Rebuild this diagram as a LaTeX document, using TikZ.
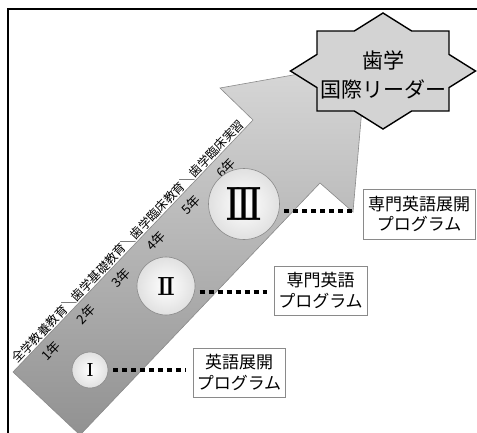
\documentclass[tikz,border=0pt]{standalone}
\usepackage{fontspec}
\newfontfamily\jp{Noto Sans CJK JP}
\definecolor{linegray}{HTML}{8A8A8A}
\definecolor{stargray}{HTML}{D3D3D3}
\begin{document}
\begin{tikzpicture}[x=1pt,y=-1pt,
  framestyle/.style={line width=1.3pt, black},
  arrowline/.style={draw=linegray, line width=0.6pt, line join=miter},
  arrowfill/.style={top color=white, bottom color=black!56},
  starshape/.style={draw=black, line width=1.4pt, fill=stargray, line join=miter},
  startext/.style={font=\jp\fontsize{21}{28}\selectfont, inner sep=0pt},
  stage/.style={circle, draw=linegray, line width=0.6pt, inner color=white, outer color=black!12, inner sep=0pt},
  progbox/.style={draw=linegray, line width=0.8pt, fill=white, align=center, font=\jp\fontsize{17}{20.5}\selectfont, inner sep=0pt},
  yearlabel/.style={font=\jp\fontsize{13}{13}\selectfont, rotate=46.4, inner sep=0pt},
  bandtext/.style={font=\jp\fontsize{12.2}{12}\selectfont, rotate=46.4, inner sep=0.8pt, anchor=south},
  dots/.style={line width=4.5pt, dash pattern=on 5pt off 4pt, shorten <=5pt, shorten >=7pt}
]
\useasboundingbox (0,0) rectangle (477,432);
\begin{scope}
\clip (0,0) rectangle (477,432);
% frame
\draw[framestyle] (8,433) -- (8,9) -- (478,9);
% big arrow: gradient fill
\begin{scope}
\clip (13,372) -- (253,120) -- (220,88) -- (366,62) -- (353,212) -- (320,183) -- (80,435) -- cycle;
\shade[arrowfill, rotate around={-43.6:(206,233)}] (-94,467) rectangle (506,-1);
\end{scope}
\path[arrowline] (13,372) -- (253,120) -- (220,88) -- (366,62) -- (353,212) -- (320,183) -- (80,435) -- cycle;
% star
\path[starshape] (317,31) -- (354.3,31) -- (383,13) -- (411.7,31) -- (449,31) -- (449,54.4) -- (475.5,71) -- (449,87.6) -- (449,111) -- (411.7,111) -- (383,129) -- (354.3,111) -- (317,111) -- (317,87.6) -- (290.5,71) -- (317,54.4) -- cycle;
\end{scope}
\node[startext] (lead1) at (383,60) {歯学};
\node[startext] (lead2) at (383,89) {国際リーダー};
% band text
\node[bandtext] (band) at (133,246) {全学教養教育＼歯学基礎教育＼歯学臨床教育＼歯学臨床実習};
% years
\node[yearlabel] (y1) at (51,351) {1年};
\node[yearlabel] (y2) at (86,314.4) {2年};
\node[yearlabel] (y3) at (121,277.8) {3年};
\node[yearlabel] (y4) at (156,241.2) {4年};
\node[yearlabel] (y5) at (191,204.6) {5年};
\node[yearlabel] (y6) at (226,168) {6年};
% stages
\node[stage, minimum size=36pt] (c1) at (90,370) {\resizebox{6pt}{13pt}{\bfseries I}};
\node[stage, minimum size=58pt] (c2) at (166,286) {\resizebox{17pt}{18pt}{\bfseries I\kern-.07em I}};
\node[stage, minimum size=71pt] (c3) at (244,204) {\resizebox{35pt}{33pt}{\bfseries I\kern-.07em I\kern-.07em I}};
% boxes
\node[progbox, minimum width=112pt, minimum height=50pt] (b1) at (419,214) {専門英語展開\\プログラム};
\node[progbox, minimum width=93pt, minimum height=49pt] (b2) at (320.5,290.5) {専門英語\\プログラム};
\node[progbox, minimum width=92pt, minimum height=49pt] (b3) at (239,372.5) {英語展開\\プログラム};
% connectors
\draw[dots] (c1.east) -- (c1.east -| b3.west);
\draw[dots] (c2.-12) -- (c2.-12 -| b2.west);
\draw[dots] (c3.-11) -- (c3.-11 -| b1.west);
\end{tikzpicture}
\end{document}
